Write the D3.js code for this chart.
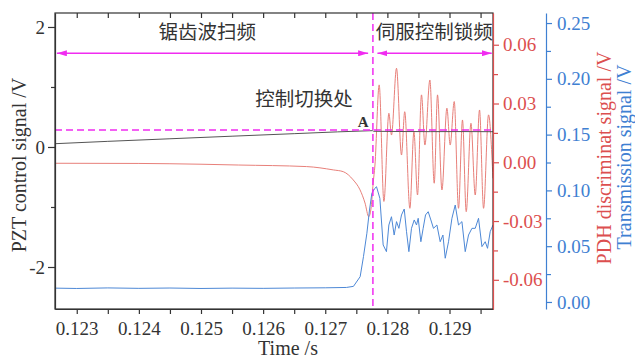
<!DOCTYPE html>
<html><head><meta charset="utf-8">
<script src="https://cdn.jsdelivr.net/npm/d3@7"></script>
<style>body{margin:0;background:#fff} svg{display:block}</style>
</head><body>
<svg id="c" width="635" height="358"></svg>
<script>
// ---------------- data ----------------
const xTicks = [0.123, 0.124, 0.125, 0.126, 0.127, 0.128, 0.129];
const xMinor = [0.1225, 0.1235, 0.1245, 0.1255, 0.1265, 0.1275, 0.1285, 0.1295];
const leftTicks = [-2, 0, 2];
const leftMinor = [-1, 1];
const redTicks = [-0.06, -0.03, 0.00, 0.03, 0.06];
const redMinor = [-0.045, -0.015, 0.015, 0.045];
const blueTicks = [0.00, 0.05, 0.10, 0.15, 0.20, 0.25];
const blueMinor = [0.025, 0.075, 0.125, 0.175, 0.225];

// PZT control signal (left axis, V)
const pztTime  = [0.12265, 0.1235, 0.1245, 0.1255, 0.1265, 0.1272, 0.12776, 0.12778, 0.1282, 0.1287, 0.1292, 0.1297];
const pztValue = [0.055, 0.094, 0.137, 0.180, 0.222, 0.252, 0.272, 0.262, 0.258, 0.256, 0.257, 0.255];

// PDH discriminant signal (red axis, V)
const pdhTime = [0.12265, 0.1240, 0.1250, 0.1256, 0.1267, 0.12713, 0.12729, 0.12745, 0.12756, 0.12764, 0.12770, 0.12774, 0.12777, 0.12780,
  0.127868, 0.127944, 0.128024, 0.128066, 0.128147, 0.128227, 0.128279, 0.128362, 0.128427, 0.128485, 0.128549, 0.128604,
  0.128684, 0.128754, 0.128807, 0.128878, 0.128958, 0.129011, 0.129076, 0.129145, 0.129209, 0.129269, 0.129345, 0.129414,
  0.129483, 0.129548, 0.129628, 0.129699];
const pdhValue = [-0.0005, -0.0006, -0.0010, -0.0014, -0.0022, -0.0039, -0.0048, -0.0090, -0.0141, -0.0208, -0.0278, -0.0227, -0.0110, -0.0014,
  0.0395, -0.0200, 0.0250, 0.0139, 0.0480, 0.0037, 0.0258, -0.0235, 0.0156, -0.0167, 0.0344, 0.0088,
  0.0420, -0.0107, 0.0344, -0.0141, 0.0276, 0.0088, 0.0310, -0.0235, 0.0216, -0.0252, 0.0199, -0.0167,
  0.0267, -0.0235, 0.0242, -0.0082];

// Transmission signal (blue axis, V)
const trTime = [0.12265, 0.1230, 0.1235, 0.1240, 0.1245, 0.1250, 0.1255, 0.1260, 0.1265, 0.1270, 0.12734, 0.127454,
  0.127562, 0.127615, 0.127670, 0.127712, 0.127750, 0.127799, 0.127825, 0.127879, 0.127932, 0.127985, 0.128024, 0.128066,
  0.128109, 0.128147, 0.128185, 0.128227, 0.128271, 0.128308, 0.128346, 0.128388, 0.128432, 0.128469, 0.128496, 0.128539,
  0.128576, 0.128614, 0.128657, 0.128700, 0.128742, 0.128797, 0.128850, 0.128894, 0.128931, 0.128984, 0.129039, 0.129092,
  0.129145, 0.129200, 0.129253, 0.129306, 0.129361, 0.129414, 0.129467, 0.129522, 0.129575, 0.129612, 0.129655, 0.129700];
const trValue = [0.0124, 0.0121, 0.0126, 0.0122, 0.0125, 0.0121, 0.0124, 0.0122, 0.0125, 0.0127, 0.0130, 0.0140,
  0.0227, 0.0406, 0.0616, 0.0824, 0.0974, 0.1019, 0.1033, 0.0929, 0.0511, 0.0451, 0.0690, 0.0764,
  0.0600, 0.0720, 0.0660, 0.0780, 0.0833, 0.0630, 0.0451, 0.0660, 0.0735, 0.0690, 0.0750, 0.0540,
  0.0660, 0.0780, 0.0809, 0.0735, 0.0660, 0.0690, 0.0540, 0.0600, 0.0392, 0.0540, 0.0750, 0.0869,
  0.0690, 0.0720, 0.0451, 0.0600, 0.0660, 0.0660, 0.0750, 0.0496, 0.0540, 0.0481, 0.0630, 0.0690];

// annotations (data coordinates: time, left-axis value)
const switchTime = 0.127767;
const refLevel = 0.283;
const arrowLevel = 1.562;
const arrowSpans = [[0.12268, 0.12769], [0.12784, 0.12968]];
const labelTexts = ["锯齿波扫频", "伺服控制锁频", "控制切换处"];
const labelTimes = [0.12510, 0.128754, 0.12666];
const labelLevels = [1.80, 1.80, 0.683];
const pointLabel = "A";
const pointTime = 0.12761, pointLevel = 0.333;

// ---------------- drawing ----------------
const W = 635, H = 358;
const m = {l: 55, t: 13, r: 142, b: 49};
const pw = W - m.l - m.r, ph = H - m.t - m.b;
const svg = d3.select("#c");
const serif = "'Liberation Serif','Times New Roman',serif";
const cjk = "'Noto Sans CJK SC','Noto Sans CJK JP',sans-serif";
const RED = "#dc4f4f", REDLINE = "#e8807a", BLUE = "#3f80d2", BLUELINE = "#4d88d6", MAG = "#f02cf0", INK = "#333";

const x = d3.scaleLinear().domain([0.12265, 0.1297]).range([m.l, m.l + pw]);
const yL = d3.scaleLinear().domain([-2.7, 2.233]).range([m.t + ph, m.t]);
const yR = d3.scaleLinear().domain([-0.0749, 0.0762]).range([m.t + ph, m.t]);
const yB = d3.scaleLinear().domain([-0.0063, 0.259]).range([m.t + ph, m.t]);
const hy = s => s.replace("\u2212", "-");

// lines
const line = (ys) => d3.line().x(d => x(d[0])).y(d => ys(d[1]));
svg.append("path").datum(d3.zip(pdhTime, pdhValue))
  .attr("d", line(yR).curve(d3.curveMonotoneX)).attr("fill", "none").attr("stroke", REDLINE).attr("stroke-width", 1);
svg.append("path").datum(d3.zip(trTime, trValue))
  .attr("d", line(yB).curve(d3.curveLinear)).attr("fill", "none").attr("stroke", BLUELINE).attr("stroke-width", 1);
svg.append("path").datum(d3.zip(pztTime, pztValue))
  .attr("d", line(yL)).attr("fill", "none").attr("stroke", "#555").attr("stroke-width", 1);

// dashed reference lines
svg.append("line").attr("x1", x(0.12265)).attr("x2", x(0.1297)).attr("y1", yL(refLevel)).attr("y2", yL(refLevel))
  .attr("stroke", MAG).attr("stroke-width", 1.5).attr("stroke-dasharray", "7,4");
svg.append("line").attr("x1", x(switchTime)).attr("x2", x(switchTime)).attr("y1", m.t).attr("y2", m.t + ph)
  .attr("stroke", MAG).attr("stroke-width", 1.5).attr("stroke-dasharray", "7,4");

// arrows
const defs = svg.append("defs");
defs.append("marker").attr("id", "ah").attr("viewBox", "0 0 10 6").attr("refX", 10).attr("refY", 3)
  .attr("markerWidth", 10).attr("markerHeight", 6).attr("markerUnits", "userSpaceOnUse").attr("orient", "auto-start-reverse")
  .append("path").attr("d", "M0,0L10,3L0,6Z").attr("fill", MAG);
arrowSpans.forEach(s => {
  svg.append("line").attr("x1", x(s[0])).attr("x2", x(s[1])).attr("y1", yL(arrowLevel)).attr("y2", yL(arrowLevel))
    .attr("stroke", MAG).attr("stroke-width", 1.3)
    .attr("marker-start", "url(#ah)").attr("marker-end", "url(#ah)");
});

// frame
svg.append("rect").attr("x", m.l).attr("y", m.t).attr("width", pw).attr("height", ph)
  .attr("fill", "none").attr("stroke", INK).attr("stroke-width", 1.2);

// axes
function style(g, color, fs) {
  g.select(".domain").attr("stroke", color).attr("stroke-width", 1.2);
  g.selectAll(".tick line").attr("stroke", color).attr("stroke-width", 1.2);
  g.selectAll("text").attr("fill", color).attr("font-family", serif).attr("font-size", fs);
}
// bottom
const gx = svg.append("g").attr("transform", `translate(0,${m.t + ph})`)
  .call(d3.axisBottom(x).tickValues(xTicks).tickSize(5).tickSizeOuter(0).tickFormat(d3.format(".3f")));
style(gx, INK, 19);
gx.selectAll("text").attr("dy", null).attr("y", 26);
const gxm = svg.append("g").attr("transform", `translate(0,${m.t + ph})`)
  .call(d3.axisBottom(x).tickValues(xMinor.filter(v => v > 0.12265)).tickSize(5).tickSizeOuter(0).tickFormat(""));
style(gxm, INK, 19); gxm.select(".domain").remove();
// top (inward)
const gt = svg.append("g").attr("transform", `translate(0,${m.t})`)
  .call(d3.axisBottom(x).tickValues(xTicks.concat(xMinor.filter(v => v > 0.12265))).tickSize(5).tickSizeOuter(0).tickFormat(""));
style(gt, INK, 19); gt.select(".domain").remove();
// left
const gy = svg.append("g").attr("transform", `translate(${m.l},0)`)
  .call(d3.axisLeft(yL).tickValues(leftTicks).tickSize(7).tickPadding(3).tickSizeOuter(0).tickFormat(d => hy(d3.format("d")(d))));
style(gy, INK, 19);
const gym = svg.append("g").attr("transform", `translate(${m.l},0)`)
  .call(d3.axisLeft(yL).tickValues(leftMinor).tickSize(4).tickSizeOuter(0).tickFormat(""));
style(gym, INK, 19); gym.select(".domain").remove();
// red right
const gr = svg.append("g").attr("transform", `translate(${m.l + pw},0)`)
  .call(d3.axisRight(yR).tickValues(redTicks).tickSize(6).tickPadding(4).tickSizeOuter(0).tickFormat(d => hy(d3.format(".2f")(d))));
style(gr, RED, 19);
const grm = svg.append("g").attr("transform", `translate(${m.l + pw},0)`)
  .call(d3.axisRight(yR).tickValues(redMinor).tickSize(5).tickSizeOuter(0).tickFormat(""));
style(grm, RED, 19); grm.select(".domain").remove();
// blue right
const bx = m.l + pw + 53;
const gb = svg.append("g").attr("transform", `translate(${bx},0)`)
  .call(d3.axisRight(yB).tickValues(blueTicks).tickSize(6).tickPadding(5).tickSizeOuter(0).tickFormat(d3.format(".2f")));
style(gb, BLUE, 19);
const gbm = svg.append("g").attr("transform", `translate(${bx},0)`)
  .call(d3.axisRight(yB).tickValues(blueMinor).tickSize(5).tickSizeOuter(0).tickFormat(""));
style(gbm, BLUE, 19); gbm.select(".domain").remove();

// axis titles
svg.append("text").attr("transform", "translate(26,165) rotate(-90)").attr("text-anchor", "middle")
  .attr("font-family", serif).attr("font-size", 20).attr("fill", INK).text("PZT control signal /V");
svg.append("text").attr("transform", "translate(611,158) rotate(-90)").attr("text-anchor", "middle")
  .attr("font-family", serif).attr("font-size", 20).attr("fill", RED).text("PDH discriminat signal /V");
svg.append("text").attr("transform", "translate(631,157) rotate(-90)").attr("text-anchor", "middle")
  .attr("font-family", serif).attr("font-size", 20).attr("fill", BLUE).text("Transmission signal /V");
svg.append("text").attr("x", 288).attr("y", 355).attr("text-anchor", "middle")
  .attr("font-family", serif).attr("font-size", 20).attr("fill", INK).text("Time /s");

// annotation labels
labelTexts.forEach((t, i) => {
  svg.append("text").attr("x", x(labelTimes[i])).attr("y", yL(labelLevels[i])).attr("text-anchor", "middle")
    .attr("font-family", cjk).attr("font-size", 19.5).attr("fill", INK).text(t);
});
svg.append("text").attr("x", x(pointTime)).attr("y", yL(pointLevel)).attr("text-anchor", "middle")
  .attr("font-family", serif).attr("font-weight", "bold").attr("font-size", 15).attr("fill", INK).text(pointLabel);
</script>
</body></html>
